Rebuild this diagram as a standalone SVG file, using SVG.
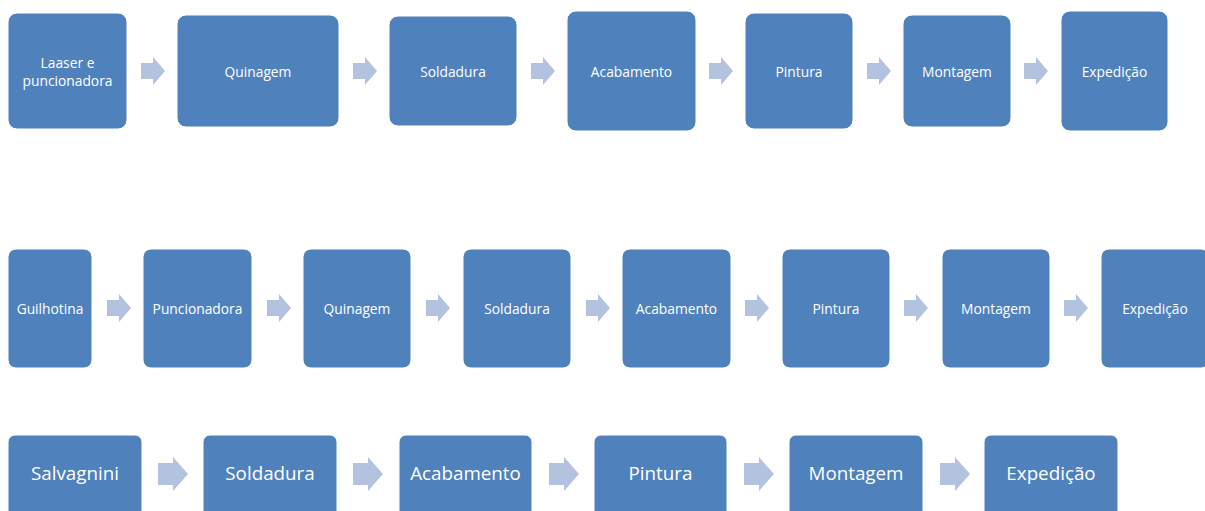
<svg xmlns="http://www.w3.org/2000/svg" width="1205" height="511" viewBox="0 0 1205 511">
  <style>
    .box { fill: #4F81BD; stroke: #FFFFFF; stroke-width: 1; }
    .arrow { fill: #B3C3DF; }
    .lbl { font-family: "Open Sans", "Liberation Sans", sans-serif; fill: #FFFFFF; text-anchor: middle; dominant-baseline: central; font-size: 13.8px; }
    .big { font-size: 18.8px; }
  </style>
  <rect width="1205" height="511" fill="#FFFFFF"/>

  <!-- Process line 1 -->
  <g id="r1-laser"><rect class="box" x="8" y="13" width="119" height="116" rx="9"/>
    <text class="lbl" x="67.5" y="62">Laaser e</text><text class="lbl" x="67.5" y="80">puncionadora</text></g>
  <g id="r1-quinagem"><rect class="box" x="177" y="15" width="162" height="112" rx="9"/><text class="lbl" x="258" y="71">Quinagem</text></g>
  <g id="r1-soldadura"><rect class="box" x="389" y="16" width="128" height="110" rx="9"/><text class="lbl" x="453" y="71">Soldadura</text></g>
  <g id="r1-acabamento"><rect class="box" x="567" y="11" width="129" height="120" rx="9"/><text class="lbl" x="631.5" y="71">Acabamento</text></g>
  <g id="r1-pintura"><rect class="box" x="745" y="13" width="108" height="116" rx="9"/><text class="lbl" x="799" y="71">Pintura</text></g>
  <g id="r1-montagem"><rect class="box" x="903" y="15" width="108" height="112" rx="9"/><text class="lbl" x="957" y="71">Montagem</text></g>
  <g id="r1-expedicao"><rect class="box" x="1061" y="11" width="107" height="120" rx="9"/><text class="lbl" x="1114.5" y="71">Expedição</text></g>

  <!-- Process line 2 -->
  <g id="r2-guilhotina"><rect class="box" x="8" y="249" width="84" height="119" rx="8"/><text class="lbl" x="50" y="308">Guilhotina</text></g>
  <g id="r2-puncionadora"><rect class="box" x="143" y="249" width="109" height="119" rx="8"/><text class="lbl" x="197.5" y="308">Puncionadora</text></g>
  <g id="r2-quinagem"><rect class="box" x="303" y="249" width="108" height="119" rx="8"/><text class="lbl" x="357" y="308">Quinagem</text></g>
  <g id="r2-soldadura"><rect class="box" x="463" y="249" width="108" height="119" rx="8"/><text class="lbl" x="517" y="308">Soldadura</text></g>
  <g id="r2-acabamento"><rect class="box" x="622" y="249" width="109" height="119" rx="8"/><text class="lbl" x="676.5" y="308">Acabamento</text></g>
  <g id="r2-pintura"><rect class="box" x="782" y="249" width="108" height="119" rx="8"/><text class="lbl" x="836" y="308">Pintura</text></g>
  <g id="r2-montagem"><rect class="box" x="942" y="249" width="108" height="119" rx="8"/><text class="lbl" x="996" y="308">Montagem</text></g>
  <g id="r2-expedicao"><rect class="box" x="1101" y="249" width="108" height="119" rx="8"/><text class="lbl" x="1155" y="308">Expedição</text></g>

  <!-- Process line 3 -->
  <g id="r3-salvagnini"><rect class="box" x="8" y="435" width="134" height="100" rx="7"/><text class="lbl big" x="75" y="473">Salvagnini</text></g>
  <g id="r3-soldadura"><rect class="box" x="203" y="435" width="134" height="100" rx="7"/><text class="lbl big" x="270" y="473">Soldadura</text></g>
  <g id="r3-acabamento"><rect class="box" x="399" y="435" width="133" height="100" rx="7"/><text class="lbl big" x="465.5" y="473">Acabamento</text></g>
  <g id="r3-pintura"><rect class="box" x="594" y="435" width="133" height="100" rx="7"/><text class="lbl big" x="660.5" y="473">Pintura</text></g>
  <g id="r3-montagem"><rect class="box" x="789" y="435" width="134" height="100" rx="7"/><text class="lbl big" x="856" y="473">Montagem</text></g>
  <g id="r3-expedicao"><rect class="box" x="984" y="435" width="134" height="100" rx="7"/><text class="lbl big" x="1051" y="473">Expedição</text></g>

  <defs>
    <!-- block arrow, 24 x 28, origin at left edge / vertical centre -->
    <path id="arr" d="M0,-8 H12 V-14 L24,0 L12,14 V8 H0 Z"/>
    <path id="arrL" d="M0,-11 H15 V-17 L30,0 L15,17 V11 H0 Z"/>
  </defs>
  <g id="connectors" class="arrow">
    <use href="#arr" x="141" y="71"/>
    <use href="#arr" x="353" y="71"/>
    <use href="#arr" x="531" y="71"/>
    <use href="#arr" x="709" y="71"/>
    <use href="#arr" x="867" y="71"/>
    <use href="#arr" x="1024" y="71"/>

    <use href="#arr" x="107" y="308"/>
    <use href="#arr" x="267" y="308"/>
    <use href="#arr" x="426" y="308"/>
    <use href="#arr" x="586" y="308"/>
    <use href="#arr" x="745" y="308"/>
    <use href="#arr" x="904" y="308"/>
    <use href="#arr" x="1064" y="308"/>

    <use href="#arrL" x="158" y="474"/>
    <use href="#arrL" x="353" y="474"/>
    <use href="#arrL" x="549" y="474"/>
    <use href="#arrL" x="744" y="474"/>
    <use href="#arrL" x="940" y="474"/>
  </g>
</svg>
